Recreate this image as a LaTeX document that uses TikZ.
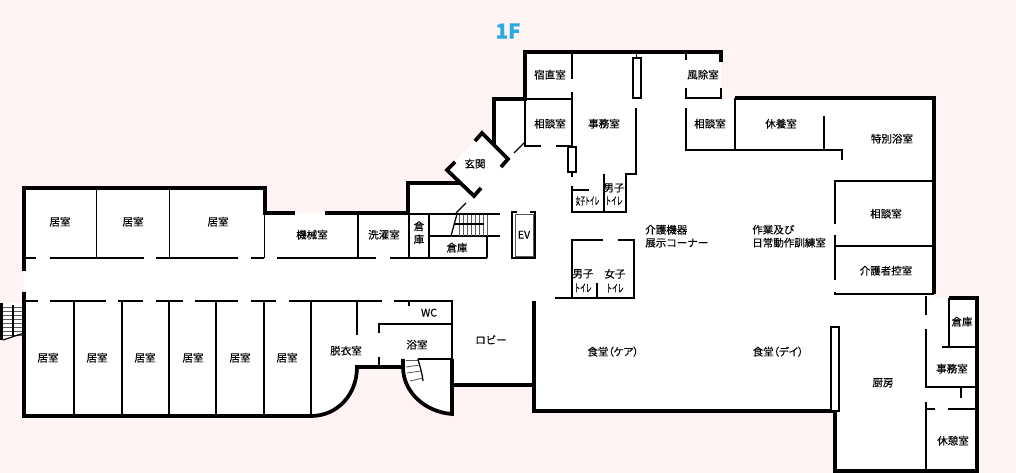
\documentclass[tikz,border=0pt]{standalone}
\usepackage{fontspec}
\setmainfont[FakeBold=0.2]{Noto Sans CJK JP}
\newfontfamily\propfont[RawFeature=+palt,FakeBold=0.2]{Noto Sans CJK JP}
\definecolor{floorbg}{HTML}{FFF3F3}
\definecolor{floorblue}{HTML}{29ABE2}
\tikzset{
  wall/.style={line width=2.7pt},
  thin wall/.style={line width=0.9pt},
  fine/.style={line width=0.6pt, black!65},
  room/.style={font=\fontsize{7.6pt}{9.4pt}\selectfont, inner sep=0pt, align=center, yshift=-0.5pt},
  roomleft/.style={room, anchor=west, align=left}
}
\newcommand{\toilettext}[1]{\scalebox{0.55}[1]{#1}}

\begin{document}
\begin{tikzpicture}[x=0.0254cm, y=-0.0254cm, line join=miter]
\useasboundingbox (0, 0) rectangle (1016, 473);
\fill[floorbg] (0, 0) rectangle (1016, 473);

% floor area
\fill[white] (24, 188) -- (265, 188) -- (265, 213) -- (408, 213) -- (408, 183) -- (460, 183)
    -- (447, 170) -- (455, 162) -- (475, 141) -- (482, 133) -- (494, 145) -- (494, 99)
    -- (525, 99) -- (525, 52) -- (721, 52) -- (721, 98) -- (934, 98) -- (934, 298)
    -- (977, 298) -- (977, 471) -- (835, 471) -- (835, 411) -- (534, 411) -- (534, 385)
    -- (452, 385) -- (452, 414) .. controls (425, 412) and (403, 392) .. (403, 367)
    -- (357, 367) .. controls (357, 395) and (337, 416) .. (311, 416) -- (24, 416) -- cycle;
\fill[white] (0, 303) -- (24, 303) -- (24, 333) -- (0, 340) -- cycle;

% outer walls
\begin{scope}[wall]
    \draw (24, 271) -- (24, 188) -- (265, 188) -- (265, 213) -- (295, 213);
    \draw (24, 292) -- (24, 416) -- (311, 416) .. controls (337, 416) and (357, 395) .. (357, 367) -- (403, 367);
    \draw (325, 213) -- (408, 213) -- (408, 183) -- (460, 183);
    \draw (475, 141) -- (482, 133) -- (508, 159) -- (501, 167);
    \draw (455, 162) -- (447, 170) -- (474, 196) -- (481, 188);
    \draw (494, 145) -- (494, 99) -- (525, 99) -- (525, 52) -- (721, 52) -- (721, 62);
    \draw (403, 359) -- (403, 367) .. controls (403, 392) and (425, 412) .. (452, 414) -- (452, 359);
    \draw (452, 385) -- (534, 385);
    \draw (534, 301) -- (534, 411) -- (835, 411) -- (835, 471) -- (977, 471) -- (977, 298) -- (949, 298);
    \draw (735, 98) -- (934, 98) -- (934, 294);
\end{scope}

% inner walls
\begin{scope}[thin wall]
    % rooms along the corridor
    \draw (24, 258) -- (36, 258);
    \draw (50, 258) -- (144, 258);
    \draw (156, 258) -- (238, 258);
    \draw (251, 258) -- (264, 258);
    \draw (277, 258) -- (376, 258);
    \draw (390, 258) -- (487, 258);
    \draw (24, 301) -- (38, 301);
    \draw (50, 301) -- (106, 301);
    \draw (118, 301) -- (143, 301);
    \draw (156, 301) -- (183, 301);
    \draw (195, 301) -- (238, 301);
    \draw (251, 301) -- (276, 301);
    \draw (289, 301) -- (382, 301);
    \draw (394, 301) -- (452, 301) -- (452, 359);
    \foreach \wallx in {96.5, 169.5} {
        \draw (\wallx, 188) -- (\wallx, 258);
    }
    \foreach \wallx in {264.5, 358, 409, 429} {
        \draw (\wallx, 213) -- (\wallx, 258);
    }
    \foreach \wallx in {74, 122, 169, 216, 264, 311} {
        \draw (\wallx, 301) -- (\wallx, 416);
    }
    % bath and wc
    \draw (357, 301) -- (357, 335);
    \draw (409, 301) -- (409, 306);
    \draw (379, 333) -- (379, 324) -- (452, 324);
    \draw (379, 357) -- (379, 367);
    \draw (418, 359) -- (452, 359);
    % stairs and storage
    \draw (409, 214) -- (500, 214);
    \draw (429, 236) -- (500, 236);
    \draw (487, 236) -- (487, 258);
    \draw (457, 214) -- (451, 236);
    \draw (456, 213) -- (466, 203);
    % office block
    \draw (572, 52) -- (572, 79);
    \draw (572, 92) -- (572, 147);
    \draw (525, 99) -- (572, 99);
    \draw (525, 99) -- (525, 146) -- (541, 146);
    \draw (556, 146) -- (572, 146);
    \draw (514, 153) -- (524, 143);
    \draw (572, 172) -- (572, 177);
    \draw (572, 186) -- (572, 212) -- (626, 212) -- (626, 174) -- (636, 174) -- (636, 108);
    \draw (572, 190) -- (589, 190);
    \draw (604, 174) -- (604, 212);
    \draw (636.5, 52) -- (636.5, 58);
    \draw[fill=white] (633, 58) rectangle (641, 98);
    \draw[fill=white] (568, 147) rectangle (576, 172);
    % wind room
    \draw (686, 52) -- (686, 60);
    \draw (686, 88) -- (686, 98) -- (721, 98) -- (721, 88);
    % lower toilets
    \draw (603, 240) -- (572, 240) -- (572, 298);
    \draw (618, 240) -- (634, 240) -- (634, 298) -- (555, 298);
    \draw (597, 283) -- (597, 298);
    % right block
    \draw (686, 108) -- (686, 150) -- (842, 150) -- (842, 160);
    \draw (735, 98) -- (735, 150);
    \draw (824, 116) -- (824, 150);
    \draw (934, 181) -- (835, 181) -- (835, 224);
    \draw (835, 235) -- (835, 280);
    \draw (835, 292) -- (835, 294) -- (934, 294);
    \draw (835, 246) -- (934, 246);
    % kitchen block
    \draw (949, 298) -- (949, 347);
    \draw (942, 347) -- (977, 347);
    \draw (926, 296) -- (926, 315);
    \draw (926, 329) -- (926, 387) -- (977, 387);
    \draw (961, 387) -- (961, 398);
    \draw (926, 402) -- (926, 471);
    \draw (926, 409) -- (935, 409);
    \draw (948, 409) -- (977, 409);
    \draw[fill=white] (831, 327) rectangle (839, 411);
    % elevator
    \draw (517, 212) -- (512, 212) -- (512, 258) -- (535, 258) -- (535, 212) -- (530, 212);
\end{scope}

% stairs
\begin{scope}[fine]
    \draw (515, 214) rectangle (533, 256);
    \foreach \stepx in {459, 463, ..., 487} {
        \draw (\stepx, 215) -- (\stepx, 236);
    }
    \foreach \stepy in {307, 311, ..., 335} {
        \draw (3, \stepy) -- (22, \stepy);
    }
    \draw (406, 360) -- (419, 360);
    \draw (406, 367) -- (420, 365);
    \draw (407, 373) -- (421, 371);
    \draw (410, 381) -- (423, 378);
\end{scope}
\draw[thin wall] (454, 224) -- (484, 224);
\draw[thin wall] (418, 359) .. controls (420, 367) and (422, 372) .. (423, 381);
\draw[thin wall] (13, 305) -- (13, 337);
\draw[thin wall] (3, 340) -- (24, 333);
\draw[wall] (1, 303) -- (1, 340);

% labels
\node[text=floorblue, font=\fontsize{15pt}{15pt}\bfseries\selectfont, inner sep=0pt] (title) at (508, 31) {1F};
\node[room] (kyoshitsuA) at (60, 221) {居室};
\node[room] (kyoshitsuB) at (133, 221) {居室};
\node[room] (kyoshitsuC) at (218, 221) {居室};
\node[room] (kikai) at (312, 234) {機械室};
\node[room] (sentaku) at (384, 234) {洗濯室};
\node[room] (sokoA) at (419, 232) {倉\\庫};
\node[room] (sokoB) at (457, 247) {倉庫};
\node[room] (elevator) at (524, 234) {EV};
\foreach \roomx/\roomname in {48/kyoshitsuD, 97/kyoshitsuE, 145/kyoshitsuF, 193/kyoshitsuG, 240/kyoshitsuH, 287/kyoshitsuI} {
    \node[room] (\roomname) at (\roomx, 357) {居室};
}
\node[room] (datsui) at (346, 350) {脱衣室};
\node[room] (wc) at (429, 312) {WC};
\node[room] (yoku) at (417, 344) {浴室};
\node[room] (lobby) at (491, 339) {ロビー};
\node[room] (genkan) at (475, 163) {玄関};
\node[room] (shukuchoku) at (550, 74) {宿直室};
\node[room] (sodanA) at (550, 123) {相談室};
\node[room] (jimuA) at (604, 123) {事務室};
\node[room] (fujo) at (703, 74) {風除室};
\node[room] (sodanB) at (710, 123) {相談室};
\node[room] (kyuyo) at (781, 123) {休養室};
\node[room] (tokubetsu) at (892, 138) {特別浴室};
\node[room] (sodanC) at (886, 213) {相談室};
\node[room] (kaigosha) at (886, 270) {介護者控室};
\node[roomleft] (tenji) at (645, 235.5) {介護機器\\展示コーナー};
\node[roomleft] (sagyo) at (752, 235.5) {作業及び\\日常動作訓練室};
\node[room] (toiletA) at (587.5, 200) {\scalebox{0.45}[1]{女子トイレ}};
\node[room] (toiletB) at (614, 193.5) {男子\\\toilettext{トイレ}};
\node[room] (toiletC) at (583, 280) {男子\\[1pt]\toilettext{トイレ}};
\node[room] (toiletD) at (615, 280) {女子\\[1pt]\toilettext{トイレ}};
\node[room] (shokudoA) at (613, 351) {\propfont 食堂（ケア）};
\node[room] (shokudoB) at (778, 351) {\propfont 食堂（デイ）};
\node[room] (chubo) at (883, 382) {厨房};
\node[room] (sokoC) at (962, 321) {倉庫};
\node[room] (jimuB) at (952, 368) {事務室};
\node[room] (kyukei) at (953, 440) {休憩室};
\end{tikzpicture}
\end{document}
